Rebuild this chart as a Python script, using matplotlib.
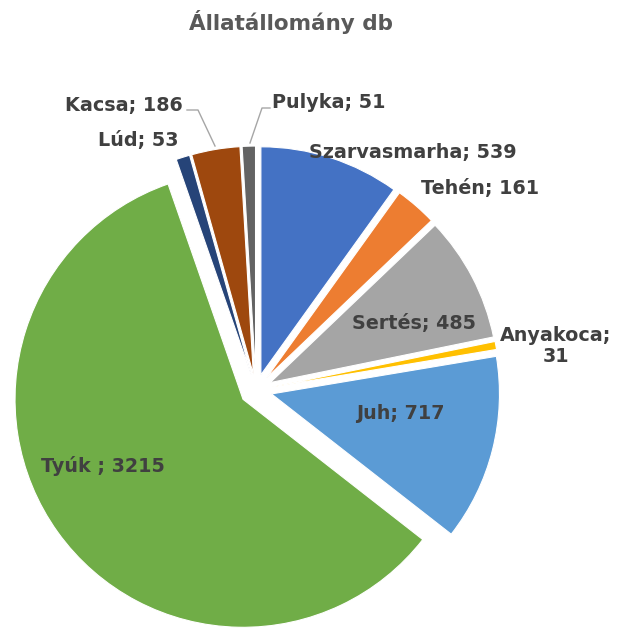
import matplotlib
matplotlib.use("Agg")
import matplotlib.pyplot as plt

# ---- data ----
categories = ["Szarvasmarha", "Tehén", "Sertés", "Anyakoca", "Juh", "Tyúk ", "Lúd", "Kacsa", "Pulyka"]
values = [539, 161, 485, 31, 717, 3215, 53, 186, 51]
colors = ["#4472C4", "#ED7D31", "#A5A5A5", "#FFC000", "#5B9BD5", "#70AD47", "#264478", "#9E480E", "#636363"]
title = "Állatállomány db"

# ---- layout (pixel geometry of the reference) ----
W, H = 618, 628
CX, CY, R = 256, 390, 228      # pie centre and radius in pixels
EXPLODE = 0.07

def px(x, y):
    return (x - CX) / R, (CY - y) / R

# label centres (pixels)
label_pos = {
    "Szarvasmarha": (413, 152),
    "Tehén": (480, 188),
    "Sertés": (414, 323),
    "Anyakoca": (556, 346),
    "Juh": (400, 413),
    "Tyúk ": (103, 466),
    "Lúd": (138, 140),
    "Kacsa": (124, 105),
    "Pulyka": (329, 102),
}
leaders = {
    "Kacsa": [(187, 110), (198, 110), (215, 146)],
    "Pulyka": [(270, 108), (262, 108), (250, 143)],
}

fig = plt.figure(figsize=(W / 100, H / 100), dpi=100)
ax = fig.add_axes([0, 0, 1, 1])

ax.pie(values, colors=colors, startangle=90, counterclock=False,
       explode=[EXPLODE] * len(values), radius=1, center=(0, 0),
       wedgeprops=dict(edgecolor="white", linewidth=0.8), frame=True)
ax.set_xlim(-CX / R, (W - CX) / R)
ax.set_ylim(-(H - CY) / R, CY / R)
ax.set_aspect("auto")
ax.axis("off")

for cat, val in zip(categories, values):
    x, y = px(*label_pos[cat])
    if cat == "Anyakoca":
        txt = f"{cat};\n{val}"
    else:
        txt = f"{cat}; {val}"
    ax.text(x, y, txt, ha="center", va="center", fontsize=13.8,
            fontweight="bold", color="#404040", family="DejaVu Sans",
            linespacing=1.1)

for cat, pts in leaders.items():
    xs, ys = zip(*[px(*p) for p in pts])
    ax.plot(xs, ys, color="#A6A6A6", linewidth=1.0)

fig.text(291 / W, 1 - 22 / H, title, ha="center", va="center",
         fontsize=15.5, fontweight="bold", color="#595959", family="DejaVu Sans")

fig.savefig("out.png", dpi=100, facecolor="white")
